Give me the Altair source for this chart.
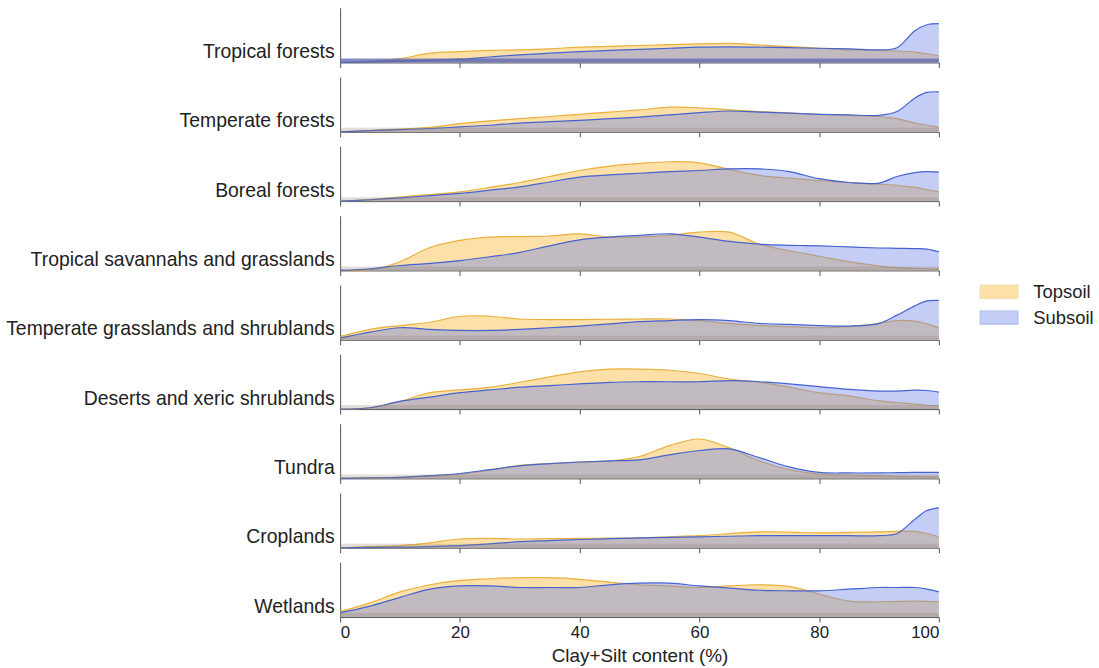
import altair as alt
import pandas as pd

biomes = [
    "Tropical forests",
    "Temperate forests",
    "Boreal forests",
    "Tropical savannahs and grasslands",
    "Temperate grasslands and shrublands",
    "Deserts and xeric shrublands",
    "Tundra",
    "Croplands",
    "Wetlands",
]

x_grid = [0, 5, 10, 15, 20, 25, 30, 35, 40, 45, 50, 55, 60, 65, 70, 75, 80, 85, 90, 93, 96, 98, 100]

topsoil = {
    "Tropical forests":      [0, 2, 7, 17, 20, 22, 23, 25, 28, 29.5, 31, 32.5, 34, 35, 32, 29, 26, 23, 22, 21, 19, 16, 12],
    "Temperate forests":     [0, 2, 5, 8, 15, 20, 24, 28, 32, 36, 40, 45, 44, 40, 37, 34.5, 32, 30, 28, 24, 16, 12, 8],
    "Boreal forests":        [0, 3, 7.5, 12, 17, 25, 34, 45, 56, 64, 69, 72, 70, 58, 47, 42, 37.5, 34, 31, 29, 25, 21, 17],
    "Tropical savannahs and grasslands": [0, 1, 16, 42, 55, 61, 62, 63, 67, 61, 61, 64, 70, 70, 48, 36, 26, 16, 8, 5, 4, 3, 3],
    "Temperate grasslands and shrublands": [6, 19, 26, 32, 43, 43, 38, 37, 37, 37.5, 38, 38, 35, 30, 26, 24, 22, 24, 30, 35, 34, 29, 22],
    "Deserts and xeric shrublands": [0, 2.5, 14, 30, 35, 40, 49, 59, 68, 73, 73, 71, 65, 55, 49, 40, 30, 24, 15, 12, 9, 7, 6],
    "Tundra":                [0, 1, 2, 4, 8, 15, 24, 27, 30, 32, 40, 60, 72, 56, 32, 16, 8, 6, 5, 4, 3.5, 3, 3],
    "Croplands":             [0, 2, 4, 9, 16, 17, 16, 16.5, 17, 17.5, 18, 20, 22, 26, 29, 28.5, 27, 28, 29, 30, 30, 26, 20],
    "Wetlands":              [10, 26, 46, 59, 67, 70, 72, 72, 69, 64, 59, 57, 54, 57, 59, 56, 42, 29, 28, 28.5, 29, 28.5, 28],
}

subsoil = {
    "Tropical forests":      [0, 1, 3, 4, 6, 10, 14, 17, 20, 22, 24, 26, 28, 28.5, 28, 27, 26, 25, 23, 27, 58, 69, 71],
    "Temperate forests":     [0, 2, 4, 6, 9, 12, 16, 18.5, 21, 24, 27, 31, 35, 38, 36, 34, 32, 31, 30, 37, 62, 72, 73],
    "Boreal forests":        [0, 2.5, 6, 10, 14, 20, 26, 35, 44, 48, 51, 54, 56, 59, 59, 54, 41, 34, 33, 45, 52, 54, 53],
    "Tropical savannahs and grasslands": [0, 3, 9, 13, 18, 25, 33, 45, 56, 61, 64, 67, 61, 53, 48, 46, 45, 43, 41, 40.5, 40, 39, 34],
    "Temperate grasslands and shrublands": [3, 14, 22, 19, 17, 17, 19, 22, 25, 29, 33, 35, 37, 35, 30, 28, 26, 25, 30, 45, 62, 71, 72],
    "Deserts and xeric shrublands": [0, 2.5, 14, 22, 30, 35, 40, 43, 46, 49, 50, 50, 50, 52, 50, 46, 41, 36, 33, 33, 34.5, 34, 31],
    "Tundra":                [0, 1, 2, 5, 9, 16, 23, 27, 30, 32, 34, 43, 51, 54, 38, 21, 11, 10, 10, 10.5, 11, 11, 11],
    "Croplands":             [0, 0.5, 1, 2, 4, 7, 11, 13, 15, 16.5, 18, 19, 20, 21, 22, 22, 22, 22, 22, 26, 52, 68, 73],
    "Wetlands":              [8, 20, 36, 51, 57, 57, 54, 54, 54, 59, 62, 62, 57, 53, 49, 48, 48, 51, 54, 54, 54, 51, 46],
}

# rug bands (range covered by the observations) per biome
rug_lo = [0, 0, 0, 0, 0, 0, 0, 0, 0]
rug_hi = [100, 100, 100, 100, 100, 100, 100, 100, 100]
rug_opacity = [0.75, 0.25, 0.25, 0.25, 0.25, 0.25, 0.25, 0.25, 0.25]
rug_colors = ["#5A66B0", "#8C7A6A", "#8C7A6A", "#8C7A6A", "#8C7A6A", "#8C7A6A", "#8C7A6A", "#8C7A6A", "#8C7A6A"]

soils = ["Topsoil", "Subsoil"]
fill_colors = ["#F8B226", "#6B82E6"]
line_colors = ["#E8B03C", "#4563D0"]
FILL_OPACITY = 0.4

rows = []
for b in biomes:
    for xv, t, s in zip(x_grid, topsoil[b], subsoil[b]):
        rows.append({"biome": b, "x": xv, "soil": "Topsoil", "d": t})
        rows.append({"biome": b, "x": xv, "soil": "Subsoil", "d": s})
df = pd.DataFrame(rows)

rug_df = pd.DataFrame({"biome": biomes, "lo": rug_lo, "hi": rug_hi, "op": rug_opacity, "c": rug_colors})

FONT = "Liberation Sans"
legend = alt.Legend(
    title=None,
    orient="none",
    legendX=652,
    legendY=275,
    symbolType="M-2,-0.7H2V0.7H-2Z",
    symbolSize=361,
    symbolStrokeWidth=1.2,
    labelFontSize=18.5,
    labelFont=FONT,
    labelColor="#222222",
    labelOffset=24,
    rowPadding=6,
)

fill_scale = alt.Scale(domain=soils, range=fill_colors)
stroke_scale = alt.Scale(domain=soils, range=line_colors)

PANEL_H = 55
charts = []
for i, b in enumerate(biomes):
    last = i == len(biomes) - 1
    xenc = alt.X(
        "x:Q",
        scale=alt.Scale(domain=[0, 100], nice=False, zero=False),
        axis=alt.Axis(
            values=[0, 20, 40, 60, 80, 100],
            labels=last,
            title="Clay+Silt content (%)" if last else None,
            tickSize=5,
            grid=False,
            labelFontSize=17,
            labelFont=FONT,
            titleFontSize=19,
            titleFont=FONT,
            titleFontWeight="normal",
            titleColor="#222222",
            labelColor="#222222",
            labelPadding=3,
            titlePadding=6,
            domainColor="#555555",
            tickColor="#555555",
        ),
    )
    yenc = alt.Y(
        "d:Q",
        scale=alt.Scale(domain=[0, 100], nice=False),
        axis=alt.Axis(
            title=b,
            titleAngle=0,
            titleAlign="right",
            titleBaseline="middle",
            titleX=-6,
            titleY=44,
            titleFontSize=19.5,
            titleFont=FONT,
            titleFontWeight="normal",
            titleColor="#222222",
            ticks=False,
            labels=False,
            grid=False,
            domainColor="#555555",
        ),
    )
    base = alt.Chart(df[df["biome"] == b])
    layers = []
    for s in soils:
        sub = base.transform_filter(alt.datum.soil == s)
        layers.append(
            sub.mark_area(interpolate="catmull-rom", opacity=FILL_OPACITY).encode(
                x=xenc,
                y=yenc,
                fill=alt.Fill("soil:N", scale=fill_scale, legend=legend),
            )
        )
        layers.append(
            sub.mark_line(interpolate="catmull-rom", strokeWidth=1.2).encode(
                x=xenc,
                y=yenc,
                stroke=alt.Stroke("soil:N", scale=stroke_scale, legend=legend),
            )
        )
    rug = alt.Chart(rug_df[rug_df["biome"] == b]).mark_rect().encode(
        x=alt.X("lo:Q"),
        x2="hi:Q",
        y=alt.value(PANEL_H - 4),
        y2=alt.value(PANEL_H),
        color=alt.Color("c:N", scale=None, legend=None),
        opacity=alt.Opacity("op:Q", scale=None, legend=None),
    )
    layers.append(rug)
    charts.append(alt.layer(*layers).properties(width=602, height=PANEL_H))

chart = (
    alt.vconcat(*charts, spacing=8.7)
    .configure_view(stroke=None)
    .properties(padding={"left": 5, "top": 6, "right": 5, "bottom": 0}, background="white")
)

chart.save("out.html", embed_options={"renderer": "svg", "actions": False})
